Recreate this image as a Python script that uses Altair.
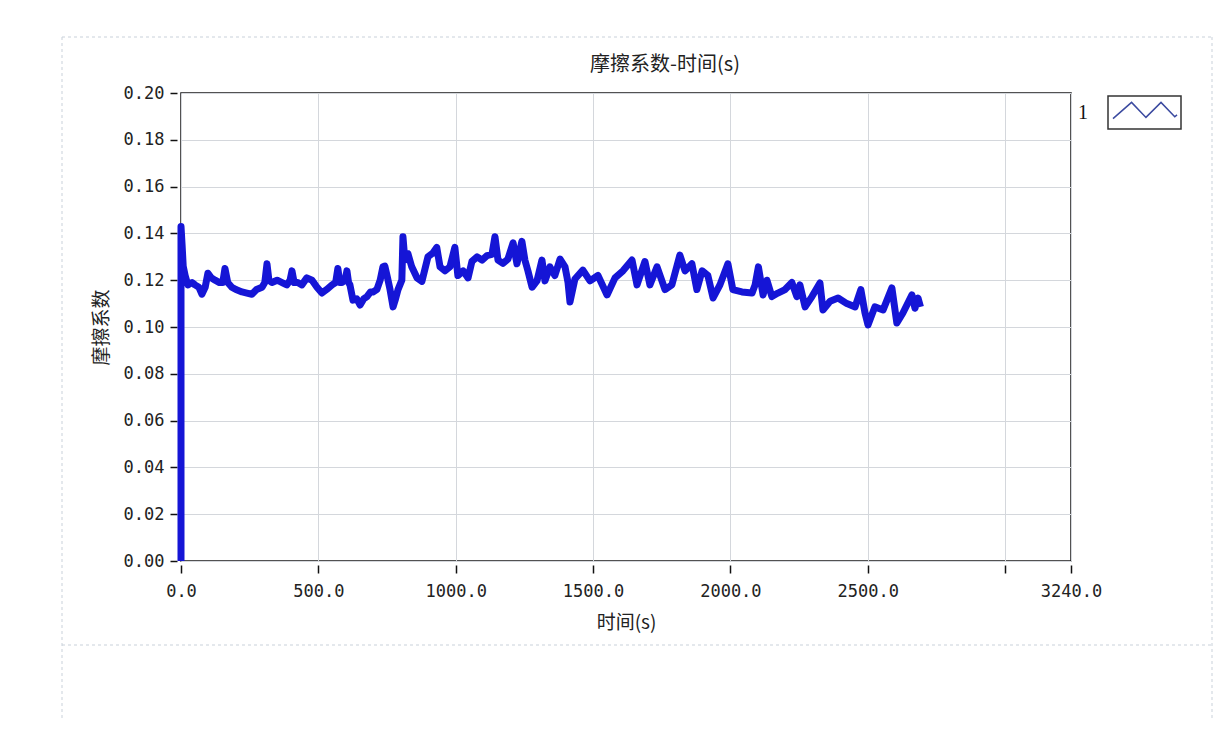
import altair as alt
import pandas as pd

# time (s) and friction coefficient
t_vals = [0, 0, 4, 8, 15, 25, 40, 51, 65, 76, 88, 98, 110, 124, 140, 152, 160, 170, 185, 200,
          222, 240, 258, 275, 295, 305, 313, 320, 331, 350, 368, 385, 397, 404, 412, 425, 440,
          458, 477, 495, 513, 530, 550, 563, 571, 578, 586, 597, 604, 610, 615, 626, 640, 652,
          665, 677, 690, 699, 713, 725, 735, 742, 750, 761, 772, 781, 790, 804, 808, 815, 826,
          840, 859, 877, 899, 917, 931, 943, 961, 979, 997, 1008, 1027, 1045, 1059, 1078, 1096,
          1114, 1132, 1143, 1154, 1172, 1190, 1209, 1223, 1241, 1252, 1263, 1278, 1296, 1314,
          1325, 1343, 1361, 1380, 1398, 1409, 1416, 1434, 1463, 1489, 1518, 1551, 1580, 1609,
          1642, 1660, 1689, 1707, 1733, 1762, 1787, 1816, 1835, 1860, 1878, 1897, 1918, 1937,
          1962, 1991, 2009, 2042, 2079, 2090, 2102, 2119, 2133, 2151, 2173, 2199, 2224, 2242,
          2253, 2272, 2297, 2326, 2337, 2363, 2392, 2424, 2454, 2475, 2490, 2501, 2526, 2556,
          2588, 2606, 2628, 2661, 2672, 2683, 2692]
mu_vals = [0.0, 0.143, 0.135, 0.126, 0.122, 0.118, 0.119, 0.118, 0.117, 0.114, 0.117, 0.123,
           0.121, 0.120, 0.119, 0.119, 0.125, 0.119, 0.117, 0.116, 0.115, 0.1145, 0.114, 0.116,
           0.117, 0.119, 0.127, 0.120, 0.119, 0.120, 0.119, 0.118, 0.120, 0.124, 0.119, 0.119,
           0.118, 0.121, 0.120, 0.117, 0.1145, 0.116, 0.118, 0.119, 0.125, 0.119, 0.119, 0.120,
           0.124, 0.119, 0.118, 0.1115, 0.112, 0.1094, 0.112, 0.113, 0.115, 0.115, 0.116, 0.120,
           0.1257, 0.126, 0.122, 0.116, 0.1086, 0.112, 0.116, 0.120, 0.1386, 0.1286, 0.1314,
           0.1257, 0.121, 0.1195, 0.130, 0.1316, 0.134, 0.1257, 0.124, 0.1257, 0.134, 0.122,
           0.124, 0.121, 0.128, 0.130, 0.1286, 0.1305, 0.131, 0.1386, 0.1286, 0.1272, 0.129,
           0.136, 0.127, 0.1366, 0.1286, 0.124, 0.117, 0.1197, 0.1286, 0.1197, 0.1257, 0.122,
           0.129, 0.1257, 0.119, 0.1107, 0.1205, 0.1243, 0.1197, 0.122, 0.1137, 0.121, 0.124,
           0.1286, 0.118, 0.128, 0.118, 0.1257, 0.116, 0.118, 0.1307, 0.124, 0.127, 0.116,
           0.124, 0.122, 0.1124, 0.118, 0.127, 0.116, 0.115, 0.1145, 0.118, 0.1257, 0.1137,
           0.120, 0.113, 0.1145, 0.116, 0.119, 0.113, 0.118, 0.1086, 0.113, 0.1188, 0.1073,
           0.111, 0.1124, 0.110, 0.1086, 0.116, 0.106, 0.1009, 0.1086, 0.1073, 0.1167, 0.1017,
           0.106, 0.1137, 0.108, 0.1124, 0.1086]

x_ticks = [0, 500, 1000, 1500, 2000, 2500, 3000, 3240]
y_ticks = [0.0, 0.02, 0.04, 0.06, 0.08, 0.10, 0.12, 0.14, 0.16, 0.18, 0.20]

title_text = "摩擦系数-时间(s)"
x_title = "时间(s)"
y_title = "摩擦系数"
series_label = "1"

df = pd.DataFrame({"t": t_vals, "mu": mu_vals, "i": list(range(len(t_vals)))})
one = pd.DataFrame({"a": [0]})

W, H = 890, 468
CJK = "Noto Sans CJK SC"
NUM = "DejaVu Sans Mono"

line = alt.Chart(df).mark_line(color="#1515d6", strokeWidth=7, strokeJoin="round").encode(
    x=alt.X("t:Q",
            scale=alt.Scale(domain=[0, 3240], nice=False, zero=False),
            axis=alt.Axis(values=x_ticks,
                          labelExpr="datum.value == 3000 ? '' : format(datum.value, '.1f')",
                          title=x_title, titleFont=CJK, titleFontSize=19, titleFontWeight="normal",
                          titleColor="#222222", titlePadding=14,
                          labelFont=NUM, labelFontSize=17, labelColor="#222222",
                          labelPadding=10, tickSize=8, tickColor="#111111", tickWidth=1.5,
                          offset=4, domain=False, grid=True, gridColor="#d4d7dc",
                          labelFlush=False, labelOverlap=False)),
    y=alt.Y("mu:Q",
            scale=alt.Scale(domain=[0, 0.2], nice=False),
            axis=alt.Axis(values=y_ticks, format=".2f",
                          title=y_title, titleFont=CJK, titleFontSize=19, titleFontWeight="normal",
                          titleColor="#222222", titlePadding=12,
                          labelFont=NUM, labelFontSize=17, labelColor="#222222",
                          labelPadding=6, tickSize=7, tickColor="#111111", tickWidth=1.5,
                          offset=4, domain=False, grid=True, gridColor="#d4d7dc",
                          labelFlush=False, labelOverlap=False)),
    order="i:Q",
)

# chart title
title_mark = alt.Chart(one).mark_text(
    text=title_text, font=CJK, fontSize=20, color="#222222",
    align="center", baseline="middle"
).encode(x=alt.value(484), y=alt.value(-28))

# legend box on the right
legend_box = alt.Chart(one).mark_rect(fill="white", stroke="#333333", strokeWidth=1.5).encode(
    x=alt.value(927), x2=alt.value(1000), y=alt.value(3), y2=alt.value(36)
)
legend_wave = alt.Chart(one).mark_point(
    shape="M -1 0.24 L -0.42 -0.27 L 0.03 0.2 L 0.5 -0.27 L 0.93 0.18 L 1 0.12",
    filled=False, stroke="#3b4aa0", strokeWidth=1.5, size=4096, opacity=1
).encode(x=alt.value(964), y=alt.value(18))
legend_text = alt.Chart(one).mark_text(
    text=series_label, font="Liberation Serif", fontSize=20,
    color="#111111", align="center", baseline="middle"
).encode(x=alt.value(902), y=alt.value(20))

# faint dashed page frame
dash = dict(color="#c9d1da", strokeWidth=1, strokeDash=[3, 3])
frame_top = alt.Chart(one).mark_rule(**dash).encode(
    x=alt.value(-119), x2=alt.value(1031), y=alt.value(-56))
frame_bottom = alt.Chart(one).mark_rule(**dash).encode(
    x=alt.value(-119), x2=alt.value(1031), y=alt.value(552))
frame_left = alt.Chart(one).mark_rule(**dash).encode(
    x=alt.value(-119), y=alt.value(-56), y2=alt.value(640))
frame_right = alt.Chart(one).mark_rule(**dash).encode(
    x=alt.value(1031), y=alt.value(-56), y2=alt.value(640))

chart = alt.layer(
    frame_top, frame_bottom, frame_left, frame_right,
    line, title_mark, legend_box, legend_wave, legend_text
).properties(
    width=W, height=H,
    padding={"left": 173, "top": 85, "right": 145, "bottom": 160},
    autosize=alt.AutoSizeParams(type="none"),
    background="#ffffff",
).configure_view(
    stroke="#1a1a1a", strokeWidth=1.5
)

chart.save("out.html", embed_options={"renderer": "svg", "actions": False})
